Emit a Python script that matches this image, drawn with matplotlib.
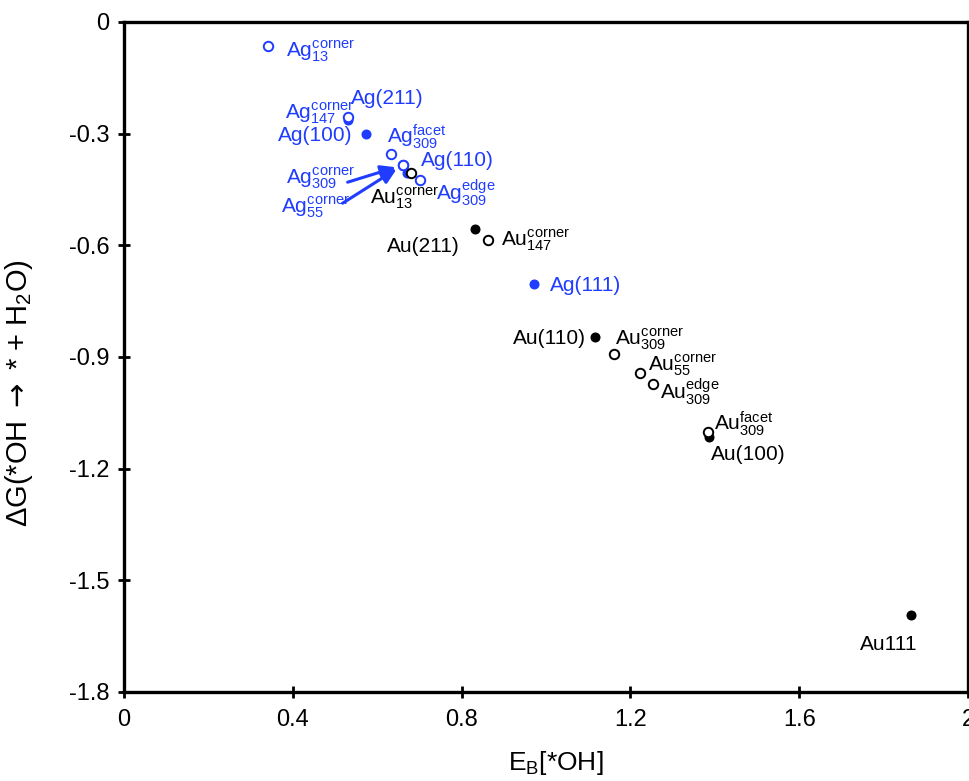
import matplotlib
matplotlib.use("Agg")
import matplotlib.pyplot as plt

plt.rcParams['font.family'] = ['Liberation Sans', 'DejaVu Sans']
plt.rcParams['mathtext.fontset'] = 'custom'
plt.rcParams['mathtext.rm'] = 'Liberation Sans'
plt.rcParams['mathtext.it'] = 'Liberation Sans:italic'
plt.rcParams['mathtext.bf'] = 'Liberation Sans:bold'
plt.rcParams['mathtext.sf'] = 'DejaVu Sans'

BLUE = '#1f3cff'

# Ag sites
ag_names = ['Ag13 corner', 'Ag(211)', 'Ag147 corner', 'Ag(100)', 'Ag309 facet',
            'Ag309 corner', 'Ag55 corner', 'Ag(110)', 'Ag309 edge', 'Ag(111)']
ag_eb = [0.34, 0.53, 0.53, 0.572, 0.632, 0.66, 0.66, 0.671, 0.70, 0.972]
ag_dg = [-0.065, -0.263, -0.255, -0.30, -0.355, -0.385, -0.385, -0.405, -0.425, -0.705]
ag_filled = [False, True, False, True, False, False, False, True, False, True]

# Au sites
au_names = ['Au13 corner', 'Au(211)', 'Au147 corner', 'Au(110)', 'Au309 corner',
            'Au55 corner', 'Au309 edge', 'Au(100)', 'Au309 facet', 'Au111']
au_eb = [0.68, 0.832, 0.863, 1.115, 1.162, 1.223, 1.253, 1.385, 1.384, 1.865]
au_dg = [-0.405, -0.556, -0.586, -0.846, -0.893, -0.943, -0.973, -1.115, -1.101, -1.592]
au_filled = [False, True, False, True, False, False, False, True, False, True]

x_ticks = [0, 0.4, 0.8, 1.2, 1.6, 2]
x_ticklabels = ['0', '0.4', '0.8', '1.2', '1.6', '2']
y_ticks = [0, -0.3, -0.6, -0.9, -1.2, -1.5, -1.8]
y_ticklabels = ['0', '-0.3', '-0.6', '-0.9', '-1.2', '-1.5', '-1.8']


def site(el, sub, sup):
    return r'$\mathrm{%s}^{\mathrm{%s}}_{\mathrm{%s}}$' % (el, sup, sub)


# label text and offset (pixels) from the point
ag_labels = {
    'Ag13 corner': (site('Ag', '13', 'corner'), (18, -10)),
    'Ag(211)': ('Ag(211)', (3, 16)),
    'Ag147 corner': (site('Ag', '147', 'corner'), (-63, -2)),
    'Ag(100)': ('Ag(100)', (-88, -7)),
    'Ag309 facet': (site('Ag', '309', 'facet'), (-4, 11)),
    'Ag309 corner': (site('Ag', '309', 'corner'), (-117, -18)),
    'Ag55 corner': (site('Ag', '55', 'corner'), (-122, -47)),
    'Ag(110)': ('Ag(110)', (14, 7)),
    'Ag309 edge': (site('Ag', '309', 'edge'), (16, -20)),
    'Ag(111)': ('Ag(111)', (16, -7)),
}
au_labels = {
    'Au13 corner': (site('Au', '13', 'corner'), (-41, -31)),
    'Au(211)': ('Au(211)', (-88, -23)),
    'Au147 corner': (site('Au', '147', 'corner'), (13, -5)),
    'Au(110)': ('Au(110)', (-82, -7)),
    'Au309 corner': (site('Au', '309', 'corner'), (1, 10)),
    'Au55 corner': (site('Au', '55', 'corner'), (8, 2)),
    'Au309 edge': (site('Au', '309', 'edge'), (7, -15)),
    'Au(100)': ('Au(100)', (2, -23)),
    'Au309 facet': (site('Au', '309', 'facet'), (6, 2)),
    'Au111': ('Au111', (-51, -35)),
}

fig = plt.figure(figsize=(9.7, 7.81), dpi=100)
ax = fig.add_axes([0.128, 0.114, 0.870, 0.858])


def draw(names, xs, ys, filled, color, labels):
    # filled markers first, open markers (white face) on top
    for n, x, y, f in zip(names, xs, ys, filled):
        if f:
            ax.plot(x, y, 'o', ms=6.2, color=color, zorder=3)
    for n, x, y, f in zip(names, xs, ys, filled):
        if not f:
            ax.plot(x, y, 'o', ms=6.8, mfc='white', mec=color, mew=1.4, zorder=4)
    for n, x, y in zip(names, xs, ys):
        txt, off = labels[n]
        ax.annotate(txt, (x, y), xytext=off, textcoords='offset pixels',
                    ha='left', va='baseline', fontsize=15, color=color, zorder=5)


draw(ag_names, ag_eb, ag_dg, ag_filled, BLUE, ag_labels)
draw(au_names, au_eb, au_dg, au_filled, 'black', au_labels)

# arrows from the two crowded labels
i = ag_names.index('Ag309 corner')
for tail in [(-55, -17), (-60, -38)]:
    ax.annotate('', (ag_eb[i], ag_dg[i]), xytext=tail, textcoords='offset pixels',
                arrowprops=dict(arrowstyle='-|>,head_length=0.9,head_width=0.4',
                                color=BLUE, lw=2.2, shrinkA=0, shrinkB=5), zorder=5)

ax.set_xlim(0, 2)
ax.set_ylim(-1.8, 0)
ax.set_xticks(x_ticks)
ax.set_xticklabels(x_ticklabels)
ax.set_yticks(y_ticks)
ax.set_yticklabels(y_ticklabels)
ax.tick_params(direction='inout', length=9, width=2, labelsize=17, pad=6)
ax.tick_params(axis='x', pad=8)
for s in ax.spines.values():
    s.set_linewidth(2.4)

ax.set_xlabel(r'E$_\mathrm{B}$[*OH]', fontsize=19)
ax.set_ylabel(r'ΔG(*OH $\mathsf{\rightarrow}$ * + H$_\mathrm{2}$O)', fontsize=21)
ax.xaxis.set_label_coords(0.512, -0.085)
ax.yaxis.set_label_coords(-0.106, 0.446)

fig.savefig('out.png', dpi=100)
